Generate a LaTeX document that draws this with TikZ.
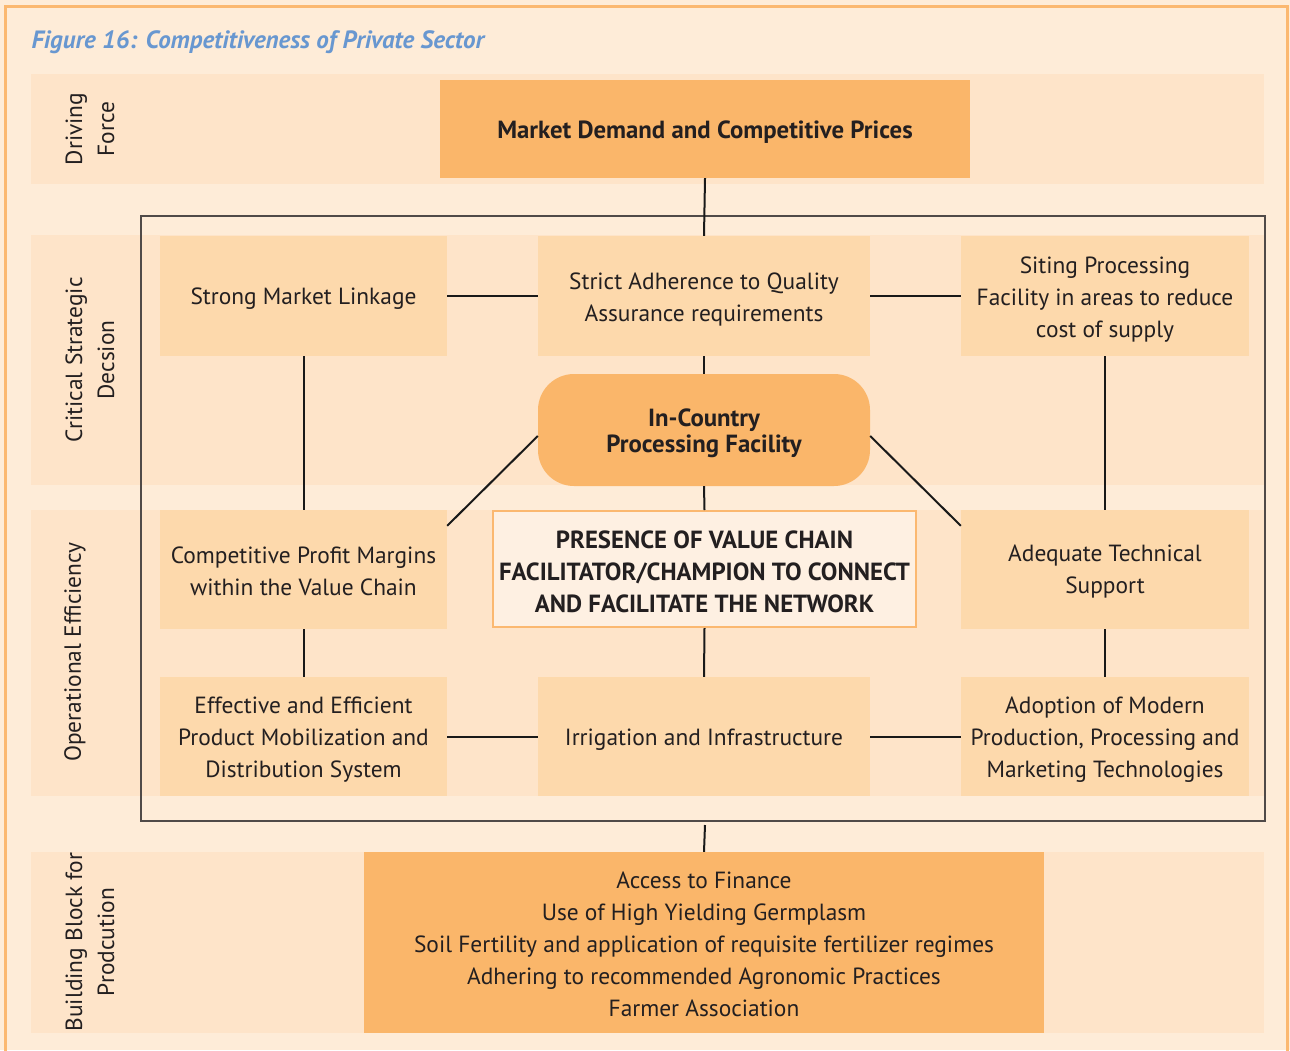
\documentclass[tikz,border=0pt]{standalone}
\usepackage{fontspec}
\setmainfont{PT Sans}
\definecolor{bgout}{RGB}{254,236,216}
\definecolor{band}{RGB}{254,228,201}
\definecolor{boxc}{RGB}{253,217,172}
\definecolor{dark}{RGB}{250,182,106}
\definecolor{bord}{RGB}{251,184,112}
\definecolor{ttl}{RGB}{104,151,208}
\definecolor{txt}{RGB}{35,31,32}
\definecolor{light}{RGB}{254,240,226}
\definecolor{frame}{RGB}{80,74,72}
\newcommand{\regfont}{\fontsize{23.4}{32}\selectfont}
\newcommand{\bldfont}{\fontsize{24.8}{32}\selectfont\bfseries}
\tikzset{
  lbl/.style={rotate=90, align=center, text=txt, font=\regfont},
  pbox/.style={fill=boxc, draw=none, inner sep=0pt},
  dbox/.style={fill=dark, draw=none, inner sep=0pt},
  tx/.style={text=txt, align=center, inner sep=0pt, font=\regfont},
  tb/.style={text=txt, align=center, inner sep=0pt, font=\bldfont},
  conn/.style={line width=2pt, draw=black!90},
}
\begin{document}
\begin{tikzpicture}[x=1pt,y=-1pt]
\useasboundingbox (0,0) rectangle (1290,1050);
\fill[bgout] (0,0) rectangle (1290,1050);
\draw[bord, line width=3pt] (5,6) rectangle (1287,1065);
\node[anchor=west, text=ttl, font=\fontsize{25}{28}\selectfont\bfseries\itshape] (title) at (28,42) {Figure 16: Competitiveness of Private Sector};
% bands
\fill[band] (31,74) rectangle (1264,184);
\fill[band] (31,235) rectangle (1264,485);
\fill[band] (31,510) rectangle (1264,796);
\fill[band] (31,852) rectangle (1264,1033);
% labels
\node[lbl] (l1) at (90,129) {Driving\\Force};
\node[lbl] (l2) at (90,360) {Critical Strategic\\Decsion};
\node[lbl] (l3) at (75,652) {Operational Efficiency};
\node[lbl] (l4) at (90,942) {Building Block for\\Prodcution};
% frame
\draw[frame, line width=1.5pt] (141,216) rectangle (1265,821);
\coordinate (fb) at (705,821);
% boxes
\node[dbox, minimum width=530pt, minimum height=98pt] (mkt) at (705,129) {};
\node[pbox, minimum width=287pt, minimum height=120pt] (sml) at (303.5,296) {};
\node[pbox, minimum width=332pt, minimum height=120pt] (sa) at (704,296) {};
\node[pbox, minimum width=288pt, minimum height=120pt] (sit) at (1105,296) {};
\node[dbox, minimum width=332pt, minimum height=112pt, rounded corners=36pt] (inc) at (704,430) {};
\node[pbox, minimum width=287pt, minimum height=119pt] (cpm) at (303.5,569.5) {};
\node[fill=light, draw=bord, line width=2pt, inner sep=0pt, minimum width=423pt, minimum height=116pt] (pres) at (704.5,569) {};
\node[pbox, minimum width=288pt, minimum height=119pt] (ats) at (1105,569.5) {};
\node[pbox, minimum width=287pt, minimum height=119pt] (eff) at (303.5,736.5) {};
\node[pbox, minimum width=332pt, minimum height=119pt] (irr) at (704,736.5) {};
\node[pbox, minimum width=288pt, minimum height=119pt] (adp) at (1105,736.5) {};
\node[dbox, minimum width=680pt, minimum height=181pt] (bb) at (704,942.5) {};
% texts
\node[tb] (mkt-t) at ([yshift=-3pt]mkt.center) {Market Demand and Competitive Prices};
\node[tx] (sml-t) at ([yshift=-3pt]sml.center) {Strong Market Linkage};
\node[tx] (sa-t) at ([yshift=-4pt]sa.center) {Strict Adherence to Quality\\Assurance requirements};
\node[tx] (sit-t) at ([yshift=-4pt]sit.center) {Siting Processing\\Facility in areas to reduce\\cost of supply};
\node[tb, font=\fontsize{24.8}{26}\selectfont\bfseries] (inc-t) at ([yshift=-3pt]inc.center) {In-Country\\Processing Facility};
\node[tx] (cpm-t) at ([yshift=-2pt]cpm.center) {Competitive Profit Margins\\within the Value Chain};
\node[tb] (pres-t) at ([yshift=-3pt]pres.center) {PRESENCE OF VALUE CHAIN\\FACILITATOR/CHAMPION TO CONNECT\\AND FACILITATE THE NETWORK};
\node[tx] (ats-t) at ([yshift=-2pt]ats.center) {Adequate Technical\\Support};
\node[tx] (eff-t) at ([yshift=-3pt]eff.center) {Effective and Efficient\\Product Mobilization and\\Distribution System};
\node[tx] (irr-t) at ([yshift=-3pt]irr.center) {Irrigation and Infrastructure};
\node[tx] (adp-t) at ([yshift=-3pt]adp.center) {Adoption of Modern\\Production, Processing and\\Marketing Technologies};
\node[tx] (bb-t) at ([yshift=-2pt]bb.center) {Access to Finance\\Use of High Yielding Germplasm\\Soil Fertility and application of requisite fertilizer regimes\\Adhering to recommended Agronomic Practices\\Farmer Association};
% connectors
\draw[conn] (mkt.south) -- (sa.north);
\draw[conn] (sml.east) -- (sa.west);
\draw[conn] (sa.east) -- (sit.west);
\draw[conn] (sa.south) -- (inc.north);
\draw[conn] (sml.south) -- (cpm.north);
\draw[conn] (sit.south) -- (ats.north);
\draw[conn] ([yshift=-6pt]inc.west) -- ([yshift=-16pt]cpm.north east);
\draw[conn] ([yshift=-6pt]inc.east) -- ([yshift=-16pt]ats.north west);
\draw[conn] (inc.south) -- (pres.north);
\draw[conn] (pres.south) -- (irr.north);
\draw[conn] (cpm.south) -- (eff.north);
\draw[conn] (ats.south) -- (adp.north);
\draw[conn] (eff.east) -- (irr.west);
\draw[conn] (irr.east) -- (adp.west);
\draw[conn] ([yshift=-4pt]fb) -- (bb.north);
\end{tikzpicture}
\end{document}
